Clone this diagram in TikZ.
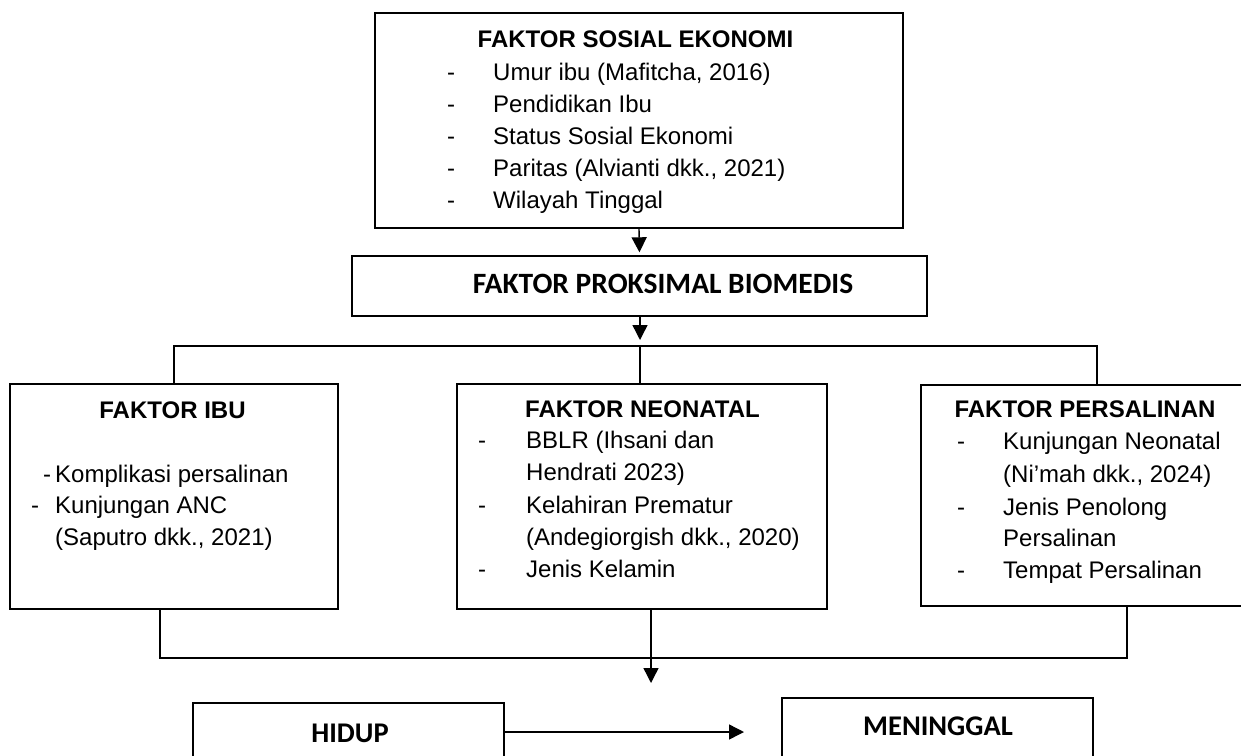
\documentclass[tikz,border=0pt]{standalone}
\usepackage{fontspec}
\setmainfont{Liberation Sans}
\newfontfamily\calibrifont{Carlito}
\usetikzlibrary{arrows.meta}
\newcommand\txtsize{\fontsize{24pt}{28pt}\selectfont}
\newcommand\bigsize{\fontsize{28.5pt}{32pt}\selectfont}
\newcommand\prksize{\fontsize{29.5pt}{33pt}\selectfont}
\tikzset{
  box/.style={draw, line width=1.4pt, inner sep=0pt, minimum width=#1},
  lne/.style={line width=1.4pt},
  arr/.style={line width=1.4pt, -{Triangle[length=15pt,width=15pt]}},
  tx/.style={anchor=base west, inner sep=0pt, font=\txtsize},
  ttl/.style={anchor=base, inner sep=0pt, font=\txtsize\bfseries},
  cttl/.style={anchor=base, inner sep=0pt, font=\calibrifont\bigsize\bfseries},
}
\begin{document}
\begin{tikzpicture}[x=1pt,y=-1pt]
\useasboundingbox (0,0) rectangle (1241,755);
\clip (0,0) rectangle (1241,755);
\fill[white] (0,0) rectangle (1241,755);
% boxes
\node[box=528pt, minimum height=215pt] (sosial) at (639,120.5) {};
\node[box=575pt, minimum height=60pt] (prok) at (639.5,286) {};
\node[box=328pt, minimum height=225pt] (ibu) at (174,496.5) {};
\node[box=370pt, minimum height=225pt] (neo) at (642,496.5) {};
\node[box=339pt, minimum height=221pt] (pers) at (1090.5,495.5) {};
\node[box=311pt, minimum height=77pt] (hidup) at (348.5,741.5) {};
\node[box=311pt, minimum height=82pt] (mening) at (937.5,739) {};
% texts: sosial
\node[ttl] (tsos) at (635.5,47.5) {FAKTOR SOSIAL EKONOMI};
\foreach \i/\t/\y in {1/Umur ibu (Mafitcha{,} 2016)/80.5, 2/Pendidikan Ibu/112.5, 3/Status Sosial Ekonomi/144.5, 4/Paritas (Alvianti dkk.{,} 2021)/176.5, 5/Wilayah Tinggal/208.5}{
  \node[tx] (sd\i) at (447,\y) {-};
  \node[tx] (st\i) at (493,\y) {\t};
}
% prok
\node[cttl, font=\calibrifont\prksize\bfseries] (tprok) at (663,293) {FAKTOR PROKSIMAL BIOMEDIS};
% ibu
\node[ttl] (tibu) at (172.5,418) {FAKTOR IBU};
\node[tx] (id1) at (43,482) {-};
\node[tx] (it1) at (55,482) {Komplikasi persalinan};
\node[tx] (id2) at (31,513) {-};
\node[tx] (it2) at (55,513) {Kunjungan ANC};
\node[tx] (it3) at (55,545) {(Saputro dkk., 2021)};
% neo
\node[ttl] (tneo) at (642.5,417) {FAKTOR NEONATAL};
\node[tx] (nd1) at (478,448) {-};
\node[tx] (nt1) at (526,448) {BBLR (Ihsani dan};
\node[tx] (nt2) at (526,480) {Hendrati 2023)};
\node[tx] (nd3) at (478,513) {-};
\node[tx] (nt3) at (526,513) {Kelahiran Prematur};
\node[tx] (nt4) at (526,545) {(Andegiorgish dkk., 2020)};
\node[tx] (nd5) at (478,577) {-};
\node[tx] (nt5) at (526,577) {Jenis Kelamin};
% pers
\node[ttl] (tpers) at (1085,417) {FAKTOR PERSALINAN};
\node[tx] (pd1) at (957,449) {-};
\node[tx] (pt1) at (1003,449) {Kunjungan Neonatal};
\node[tx] (pt2) at (1003,482) {(Ni’mah dkk., 2024)};
\node[tx] (pd3) at (957,515) {-};
\node[tx] (pt3) at (1003,515) {Jenis Penolong};
\node[tx] (pt4) at (1003,546) {Persalinan};
\node[tx] (pd5) at (957,578) {-};
\node[tx] (pt5) at (1003,578) {Tempat Persalinan};
% outcomes
\node[cttl] (thidup) at (350,742) {HIDUP};
\node[cttl] (tmen) at (938,735) {MENINGGAL};
% connectors
\coordinate (busT) at (640,346);
\coordinate (bl) at (174,346);
\coordinate (br) at (1097,346);
\coordinate (bb1) at (160,658);
\coordinate (bb2) at (1127,658);
\coordinate (neotip) at (651,683);
\coordinate (htip) at (744,732);
\draw[arr, shorten >=3pt] (sosial.south) -- (prok.north);
\draw[arr, shorten >=6pt] (prok.south -| busT) -- (busT);
\draw[lne] (ibu.north) -- (bl) -- (br) -- (br |- pers.north);
\draw[lne] (busT) -- (neo.north -| busT);
\draw[lne] (ibu.south -| bb1) -- (bb1) -- (bb2) -- (bb2 |- pers.south);
\draw[arr] (neo.south -| neotip) -- (neotip);
\draw[arr] (hidup.east |- htip) -- (htip);
\end{tikzpicture}
\end{document}
